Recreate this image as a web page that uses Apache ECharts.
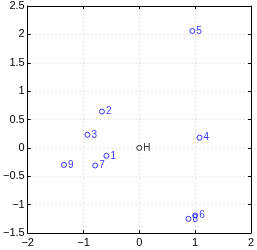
<!DOCTYPE html>
<html><head><meta charset="utf-8">
<script src="https://cdn.jsdelivr.net/npm/echarts@6/dist/echarts.min.js"></script>
<style>html,body{margin:0;padding:0;background:#fff}#c{width:257px;height:250px}</style>
</head><body><div id="c"></div>
<script>
const names = ['1','2','3','4','5','6','7','8','9'];
const xs = [-0.59, -0.67, -0.93, 1.08, 0.95, 1.00, -0.79, 0.88, -1.35];
const ys = [-0.14, 0.64, 0.23, 0.18, 2.06, -1.19, -0.31, -1.25, -0.30];
const hName = 'H';
const hX = 0, hY = 0;
const xTicks = [-2, -1, 0, 1, 2];
const yTicks = [-1.5, -1, -0.5, 0, 0.5, 1, 1.5, 2, 2.5];

const fmt = v => String(v).replace('-', '\u2212');
const chart = echarts.init(document.getElementById('c'));
const blue = '#0000ff';
const base = (pos, isX, show) => ({
  type: 'value', position: pos,
  min: isX ? xTicks[0] : yTicks[0],
  max: isX ? xTicks[xTicks.length-1] : yTicks[yTicks.length-1],
  interval: isX ? 1 : 0.5,
  axisLine: {onZero: false, lineStyle: {color: '#000'}},
  axisTick: {inside: true, length: 3, lineStyle: {color: '#000'}},
  axisLabel: {show: show, color: '#000', fontSize: 11, fontFamily: 'Liberation Sans', margin: isX ? 4 : 3, formatter: fmt},
  splitLine: {show: show, lineStyle: {color: '#d0d0d0', type: [1, 3]}}
});
chart.setOption({
  animation: false,
  grid: {left: 25, right: 4, top: 6, bottom: 17},
  xAxis: [base('bottom', true, true), base('top', true, false)],
  yAxis: [base('left', false, true), base('right', false, false)],
  series: [
    {type: 'scatter', symbol: 'circle', symbolSize: 5,
     itemStyle: {color: 'rgba(0,0,0,0)', borderColor: blue, borderWidth: 1},
     label: {show: true, position: 'right', distance: 1, color: blue, fontSize: 10, fontFamily: 'Liberation Sans',
       formatter: p => p.data[2]},
     data: xs.map((x, i) => [x, ys[i], names[i]])},
    {type: 'scatter', symbol: 'circle', symbolSize: 5,
     itemStyle: {color: 'rgba(0,0,0,0)', borderColor: '#000', borderWidth: 1},
     label: {show: true, position: 'right', distance: 1, color: '#000', fontSize: 10, fontFamily: 'Liberation Sans',
       formatter: p => p.data[2]},
     data: [[hX, hY, hName]]}
  ]
});
</script></body></html>
